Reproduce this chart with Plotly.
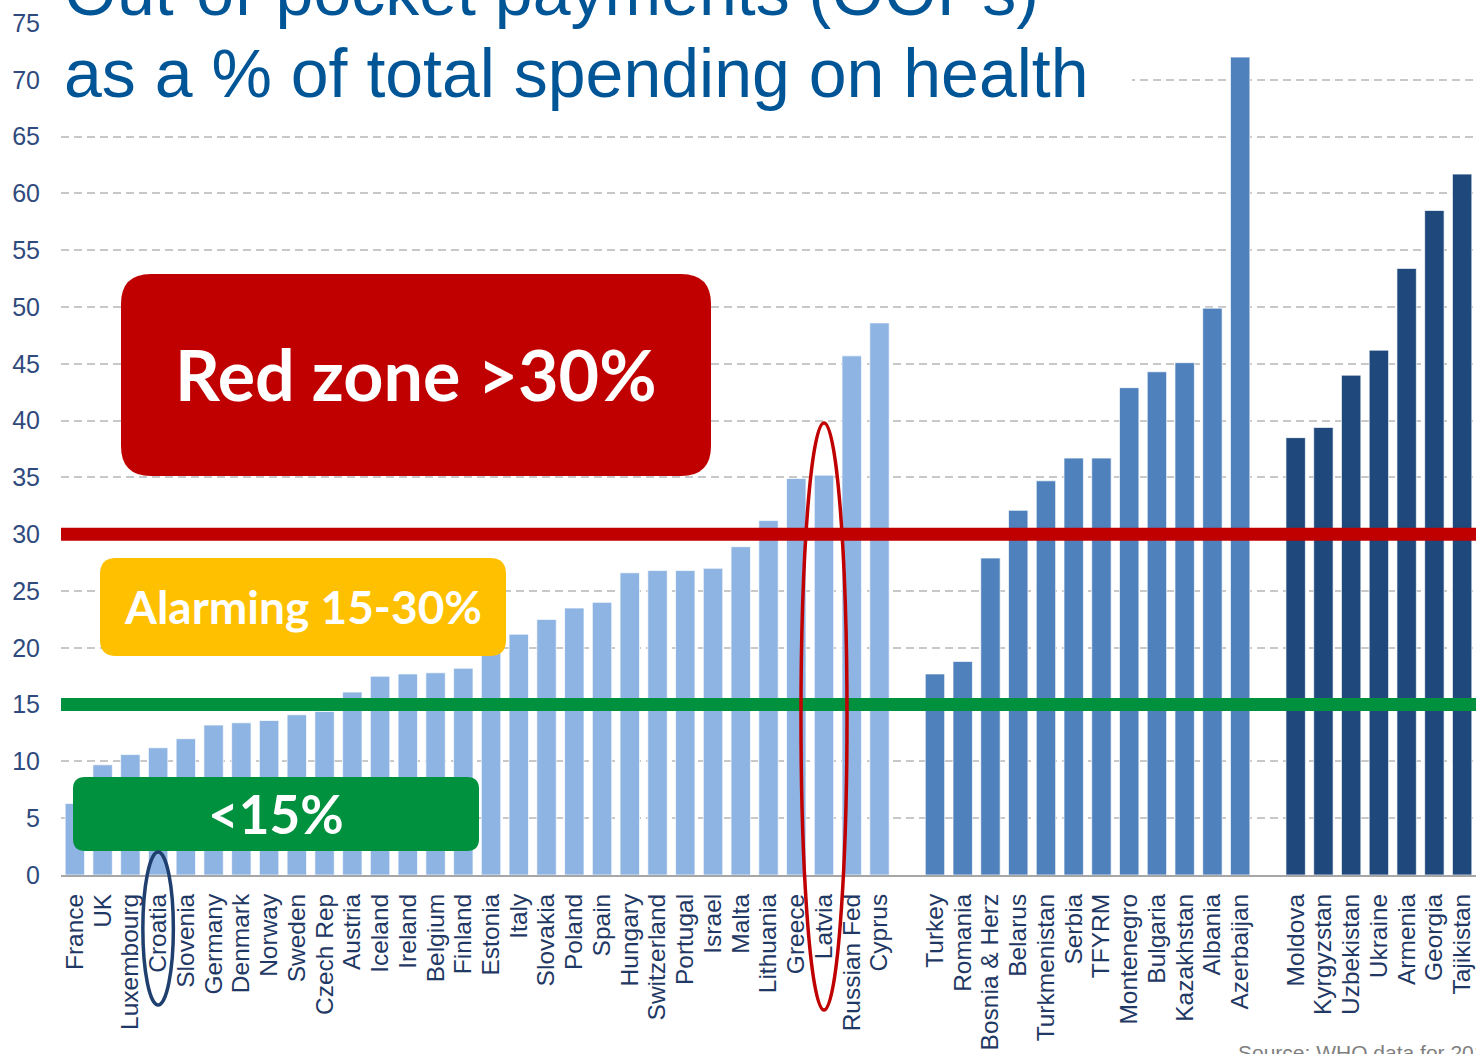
import plotly.graph_objects as go

# ---------------- data ----------------
group1_countries = ["France", "UK", "Luxembourg", "Croatia", "Slovenia", "Germany", "Denmark",
                    "Norway", "Sweden", "Czech Rep", "Austria", "Iceland", "Ireland", "Belgium",
                    "Finland", "Estonia", "Italy", "Slovakia", "Poland", "Spain", "Hungary",
                    "Switzerland", "Portugal", "Israel", "Malta", "Lithuania", "Greece", "Latvia",
                    "Russian Fed", "Cyprus"]
group1_values = [6.3, 9.7, 10.6, 11.2, 12.0, 13.2, 13.4, 13.6, 14.1, 14.4, 16.1, 17.5, 17.7, 17.8,
                 18.2, 19.8, 21.2, 22.5, 23.5, 24.0, 26.6, 26.8, 26.8, 27.0, 28.9, 31.2, 34.9, 35.2,
                 45.7, 48.6]

group2_countries = ["Turkey", "Romania", "Bosnia & Herz", "Belarus", "Turkmenistan", "Serbia",
                    "TFYRM", "Montenegro", "Bulgaria", "Kazakhstan", "Albania", "Azerbaijan"]
group2_values = [17.7, 18.8, 27.9, 32.1, 34.7, 36.7, 36.7, 42.9, 44.3, 45.1, 49.9, 72.0]

group3_countries = ["Moldova", "Kyrgyzstan", "Uzbekistan", "Ukraine", "Armenia", "Georgia",
                    "Tajikistan"]
group3_values = [38.5, 39.4, 44.0, 46.2, 53.4, 58.5, 61.7]

y_ticks = list(range(0, 80, 5))
thresholds = {"alarming": 15, "red": 30}

# ---------------- styles ----------------
C1, C2, C3 = "#8EB4E3", "#4F81BD", "#1F497D"
RED, YEL, GRN = "#C00000", "#FFC000", "#00913F"
NAVY = "#1F3864"
TITLE_BLUE = "#005596"

W, H = 1476, 1054
L, R, T, B = 61, 0, 23, 179
PW, PH = W - L - R, H - T - B

gap1, gap2 = " ", "  "
categories = group1_countries + [gap1] + group2_countries + [gap2] + group3_countries
values = group1_values + [None] + group2_values + [None] + group3_values
colors = ([C1] * len(group1_countries) + [C1] + [C2] * len(group2_countries) + [C2]
          + [C3] * len(group3_countries))
nslots = len(categories)


def px(xp):
    return (xp - L) / PW


def py(yp):
    return (H - B - yp) / PH


def rrect(x0, y0, x1, y1, r):
    pts = [("M", [(x0 + r, y0)]), ("L", [(x1 - r, y0)]), ("Q", [(x1, y0), (x1, y0 + r)]),
           ("L", [(x1, y1 - r)]), ("Q", [(x1, y1), (x1 - r, y1)]), ("L", [(x0 + r, y1)]),
           ("Q", [(x0, y1), (x0, y1 - r)]), ("L", [(x0, y0 + r)]), ("Q", [(x0, y0), (x0 + r, y0)])]
    s = ""
    for cmd, pp in pts:
        s += cmd + " " + " ".join(f"{px(a):.5f},{py(b):.5f}" for a, b in pp) + " "
    return s + "Z"


def slot_x(name):
    return (categories.index(name) + 0.5) / nslots


fig = go.Figure()
fig.add_trace(go.Bar(
    x=categories, y=values,
    marker=dict(color=colors, line=dict(color="rgba(255,255,255,0.7)", width=1)),
    hoverinfo="x+y",
))

shapes = []
# threshold lines
for key, col in (("alarming", GRN), ("red", RED)):
    shapes.append(dict(type="line", xref="paper", yref="y", x0=0, x1=1,
                       y0=thresholds[key], y1=thresholds[key],
                       line=dict(color=col, width=13), layer="above"))
# white title backing
shapes.append(dict(type="rect", xref="paper", yref="paper", x0=0, x1=px(1132),
                   y0=py(112), y1=1.05, fillcolor="white", line=dict(width=0), layer="above"))
# zone boxes
shapes.append(dict(type="path", xref="paper", yref="paper", path=rrect(121, 274, 711, 476, 30),
                   fillcolor=RED, line=dict(width=0), layer="above"))
shapes.append(dict(type="path", xref="paper", yref="paper", path=rrect(100, 558, 506, 656, 16),
                   fillcolor=YEL, line=dict(width=0), layer="above"))
shapes.append(dict(type="path", xref="paper", yref="paper", path=rrect(73, 777, 479, 851, 12),
                   fillcolor=GRN, line=dict(width=0), layer="above"))
# ellipses
slot = 1 / nslots
cx = slot_x("Croatia")
shapes.append(dict(type="circle", xref="paper", yref="paper",
                   x0=cx - 0.55 * slot, x1=cx + 0.55 * slot, y0=py(1005), y1=py(852),
                   line=dict(color="#1F3F6E", width=3.5), layer="above"))
cx = slot_x("Latvia")
shapes.append(dict(type="circle", xref="paper", yref="paper",
                   x0=cx - 0.83 * slot, x1=cx + 0.83 * slot, y0=py(1010), y1=py(423),
                   line=dict(color=RED, width=3.5), layer="above"))

annotations = [
    dict(text="Out-of-pocket payments (OOPs)", x=px(62), y=py(15 - 0.3465 * 68),
         xref="paper", yref="paper", xanchor="left", yanchor="middle", showarrow=False,
         font=dict(family="Liberation Sans, Arial", size=68, color=TITLE_BLUE)),
    dict(text="as a % of total spending on health", x=px(62), y=py(97 - 0.3465 * 68),
         xref="paper", yref="paper", xanchor="left", yanchor="middle", showarrow=False,
         font=dict(family="Liberation Sans, Arial", size=68, color=TITLE_BLUE)),
    dict(text="<b>Red zone &gt;30%</b>", x=px(416), y=py(374), xref="paper", yref="paper",
         xanchor="center", yanchor="middle", showarrow=False,
         font=dict(family="Lato, Open Sans", size=70, color="white")),
    dict(text="<b>Alarming 15-30%</b>", x=px(303), y=py(606), xref="paper", yref="paper",
         xanchor="center", yanchor="middle", showarrow=False,
         font=dict(family="Lato, Open Sans", size=46, color="white")),
    dict(text="<b>&lt;15%</b>", x=px(276), y=py(813), xref="paper", yref="paper",
         xanchor="center", yanchor="middle", showarrow=False,
         font=dict(family="Lato, Open Sans", size=53, color="white")),
    dict(text="Source: WHO data for 2013", x=px(1236), y=py(1052), xref="paper", yref="paper",
         xanchor="left", yanchor="middle", showarrow=False,
         font=dict(family="Liberation Sans, Arial", size=21, color="#7F7F7F")),
]

fig.update_layout(
    width=W, height=H,
    margin=dict(l=L, r=R, t=T, b=B, pad=0, autoexpand=False),
    paper_bgcolor="white", plot_bgcolor="white",
    showlegend=False, bargap=0.3,
    shapes=shapes, annotations=annotations,
    xaxis=dict(type="category", categoryorder="array", categoryarray=categories,
               tickmode="array", tickvals=categories, ticktext=categories,
               tickangle=-90, tickfont=dict(family="Liberation Sans, Arial", size=24.5, color=NAVY),
               showline=True, linecolor="#A6A6A6", linewidth=2, ticks="",
               ticklabelstandoff=7, showgrid=False, automargin=False),
    yaxis=dict(range=[0, 75], tickvals=y_ticks, showgrid=True, gridcolor="#C8C8C8",
               griddash="8px,5px", gridwidth=1.5, zeroline=False, showline=False,
               tickfont=dict(family="Liberation Sans, Arial", size=25, color="#2F4A7D"),
               ticklabelstandoff=20, automargin=False),
)

fig.write_html(
    "out.html",
    config={"displayModeBar": False},
    post_script="document.body.style.margin='0px'; document.body.style.overflow='hidden';",
)
